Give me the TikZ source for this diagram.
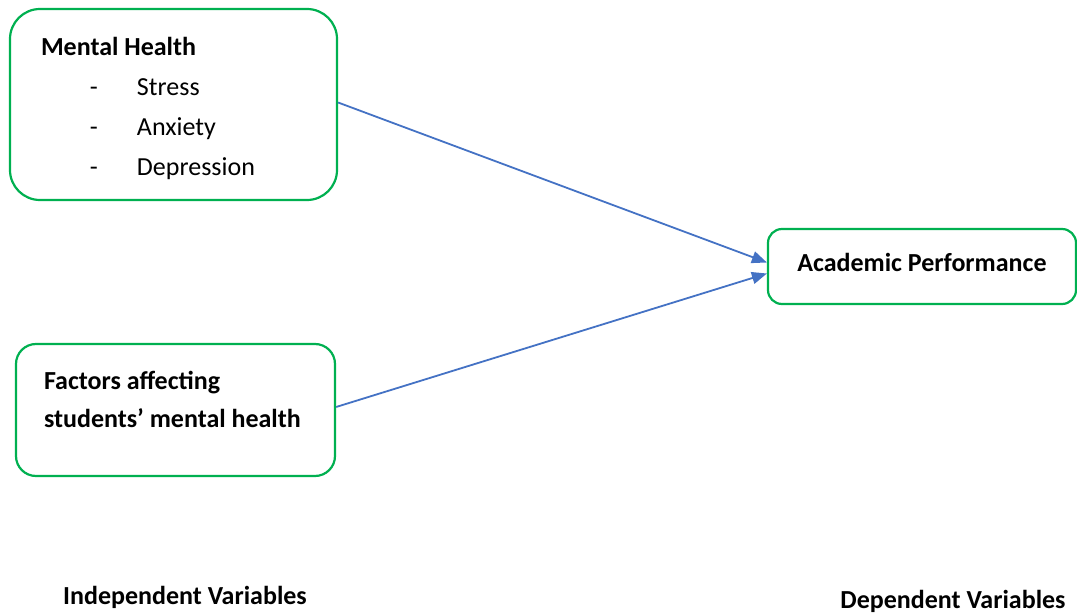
\documentclass[tikz,border=0pt]{standalone}
\usepackage{fontspec}
\setmainfont{Carlito}
\usetikzlibrary{arrows.meta,positioning}

\definecolor{boxgreen}{HTML}{00B050}
\definecolor{arrowblue}{HTML}{4472C4}

\begin{document}
\begin{tikzpicture}[x=1pt,y=-1pt,>={Triangle[length=15pt,width=12pt]}]
\tikzstyle{block} = [draw=boxgreen, line width=2.2pt, rectangle, font=\fontsize{26}{40}\selectfont]
\tikzstyle{link} = [draw=arrowblue, line width=1.8pt]
\tikzstyle{caption} = [font=\fontsize{26}{30}\selectfont\bfseries, inner sep=0pt]

\useasboundingbox (0,0) rectangle (1077,615);

\node [block, rounded corners=30pt, minimum width=327pt, minimum height=191pt, text width=265pt, inner xsep=31pt, align=flush left] (mental) at (173.5,104.5)
  {\rule{0pt}{26pt}\textbf{Mental Health}\\
   \makebox[96pt][l]{\hspace*{49pt}-}Stress\\
   \makebox[96pt][l]{\hspace*{49pt}-}Anxiety\\
   \makebox[96pt][l]{\hspace*{49pt}-}Depression};
\node [block, rounded corners=20pt, minimum width=319pt, minimum height=132pt, text width=263pt, inner xsep=28pt, align=flush left] (factors) at (175.5,410)
  {\textbf{Factors affecting}\\[-2pt] \textbf{students’ mental health}\\[-30pt]\strut};
\node [block, rounded corners=14pt, minimum width=308pt, minimum height=75pt, text depth=8pt] (academic) at (922,266.5)
  {\textbf{Academic Performance}};

\node [caption] (indep) at (185,597) {Independent Variables};
\node [caption] (dep) at (953,601) {Dependent Variables};

\draw [link, ->] ([yshift=2pt]mental.east) -- ([yshift=4pt]academic.west);
\draw [link, ->] ([yshift=3pt]factors.east) -- ([yshift=-7pt]academic.west);
\end{tikzpicture}
\end{document}
